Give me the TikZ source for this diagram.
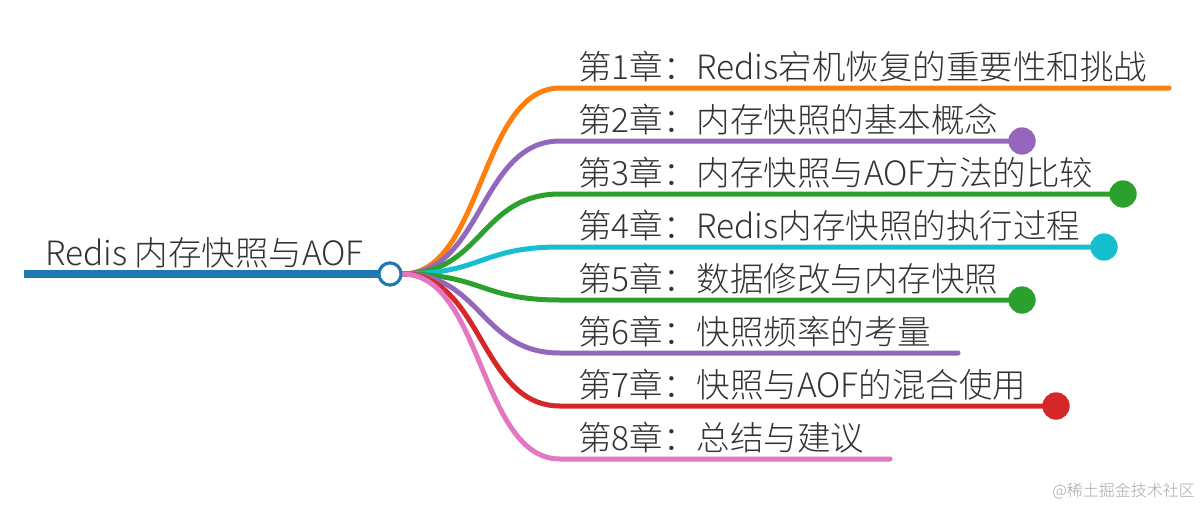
\documentclass[tikz,border=0pt]{standalone}
\usepackage{fontspec}
\setmainfont{Noto Sans CJK SC}[UprightFont={* Light}]
\definecolor{cblue}{HTML}{1F77B4}
\definecolor{corange}{HTML}{FF7F0E}
\definecolor{cpurple}{HTML}{9467BD}
\definecolor{cgreen}{HTML}{2CA02C}
\definecolor{ccyan}{HTML}{17BECF}
\definecolor{cred}{HTML}{D62728}
\definecolor{cpink}{HTML}{E377C2}
\definecolor{ctext}{HTML}{333333}
\begin{document}
\begin{tikzpicture}[x=1pt,y=-1pt,
  label/.style={anchor=base west,inner sep=0pt,text=ctext,font=\fontsize{33.5}{36}\selectfont},
  branch/.style={line width=5pt,line cap=round},
  dot/.style={circle,inner sep=0pt,minimum size=27pt,fill=#1},
  rootc/.style={circle,draw=cblue,line width=3pt,fill=white,minimum size=22pt,inner sep=0pt},
]
\useasboundingbox (0,0) rectangle (1201,506);
% root
\draw[cblue,line width=8pt] (24,274) coordinate (rs) -- (385,274);
\node[rootc] (root) at (390,274) {};
\node[label] (rt) at (45,265) {Redis 内存快照与AOF};
% branch ends
\coordinate (h1) at (560,88);  \coordinate (e1) at (1169,88);
\coordinate (h2) at (560,141); \node[dot=cpurple] (e2) at (1022,141) {};
\coordinate (h3) at (560,194); \node[dot=cgreen] (e3) at (1123,194) {};
\coordinate (h4) at (560,247); \node[dot=ccyan] (e4) at (1104,247) {};
\coordinate (h5) at (560,300); \node[dot=cgreen] (e5) at (1022,300) {};
\coordinate (h6) at (560,353); \coordinate (e6) at (958,353);
\coordinate (h7) at (560,406); \node[dot=cred] (e7) at (1056,406) {};
\coordinate (h8) at (560,459); \coordinate (e8) at (890,459);
\draw[branch,corange] (root.east) .. controls +(80,0) and +(-80,0) .. (h1) -- (e1);
\draw[branch,cpurple] (root.east) .. controls +(80,0) and +(-80,0) .. (h2) -- (e2.center);
\draw[branch,cgreen]  (root.east) .. controls +(80,0) and +(-80,0) .. (h3) -- (e3.center);
\draw[branch,ccyan]   (root.east) .. controls +(80,0) and +(-80,0) .. (h4) -- (e4.center);
\draw[branch,cgreen]  (root.east) .. controls +(80,0) and +(-80,0) .. (h5) -- (e5.center);
\draw[branch,cpurple] (root.east) .. controls +(80,0) and +(-80,0) .. (h6) -- (e6);
\draw[branch,cred]    (root.east) .. controls +(80,0) and +(-80,0) .. (h7) -- (e7.center);
\draw[branch,cpink]   (root.east) .. controls +(80,0) and +(-80,0) .. (h8) -- (e8);
% redraw dots and root on top
\node[dot=cpurple] at (e2) {};
\node[dot=cgreen] at (e3) {};
\node[dot=ccyan] at (e4) {};
\node[dot=cgreen] at (e5) {};
\node[dot=cred] at (e7) {};
\node[rootc] at (root) {};
% labels
\node[label] (c1) at (578,79)  {第1章：Redis宕机恢复的重要性和挑战};
\node[label] (c2) at (578,132) {第2章：内存快照的基本概念};
\node[label] (c3) at (578,185) {第3章：内存快照与AOF方法的比较};
\node[label] (c4) at (578,238) {第4章：Redis内存快照的执行过程};
\node[label] (c5) at (578,291) {第5章：数据修改与内存快照};
\node[label] (c6) at (578,344) {第6章：快照频率的考量};
\node[label] (c7) at (578,397) {第7章：快照与AOF的混合使用};
\node[label] (c8) at (578,450) {第8章：总结与建议};
\node[anchor=base east,inner sep=0pt,text=black!35,font=\fontsize{16}{18}\selectfont] (wm) at (1195,496) {@稀土掘金技术社区};
\end{tikzpicture}
\end{document}
